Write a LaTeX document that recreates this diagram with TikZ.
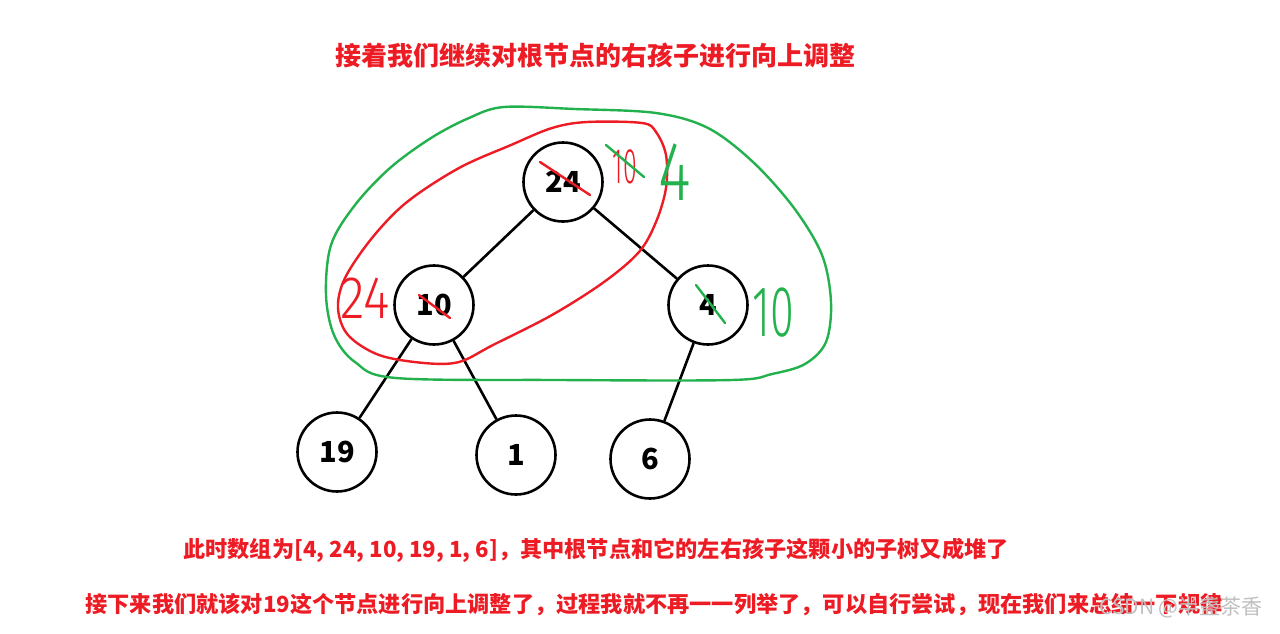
\documentclass[tikz,border=0pt]{standalone}
\usepackage{fontspec}
\newfontfamily\cjk{Noto Sans CJK SC}
\newfontfamily\hand{Fira Sans Light}
\definecolor{pred}{RGB}{237,28,36}
\definecolor{pgreen}{RGB}{34,177,76}
\tikzset{
  heap/.style={circle, draw, line width=2.6pt, minimum size=79pt, inner sep=0pt,
    font=\cjk\bfseries\fontsize{29}{29}\selectfont},
  edge/.style={line width=2.6pt},
  note/.style={text=pred, font=\cjk\bfseries\fontsize{22.2}{22.2}\selectfont},
  scrawl/.style={line width=2.4pt, line cap=round, line join=round},
}
\begin{document}
\begin{tikzpicture}[x=1pt, y=-1pt]
  \useasboundingbox (0,0) rectangle (1280,633);

  % title
  \node[note, font=\cjk\bfseries\fontsize{26}{26}\selectfont] (title) at (595,56) {接着我们继续对根节点的右孩子进行向上调整};

  % heap
  \node[heap] (n24) at (563,182) {24};
  \node[heap] (n10) at (434,305) {10};
  \node[heap] (n4)  at (708,305) {4};
  \node[heap] (n19) at (337,452) {19};
  \node[heap] (n1)  at (516,455) {1};
  \node[heap] (n6)  at (650,459) {6};
  \draw[edge] (n24) -- (n10);
  \draw[edge] (n24) -- (n4);
  \draw[edge] (n10) -- (n19);
  \draw[edge] (n10) -- (n1);
  \draw[edge] (n4) -- (n6);

  % green loop round the whole top
  \draw[scrawl, pgreen] plot[smooth cycle, tension=0.55] coordinates {
    (504,107) (575,109) (656,113) (708,128) (753,162) (794,208) (822,255)
    (831,302) (826,342) (805,364) (772,374) (732,380) (560,380) (396,378)
    (355,362) (334,335) (326,295) (331,245) (355,205) (390,168) (431,138) (469,118)};

  % red loop round 24 and 10
  \draw[scrawl, pred] plot[smooth cycle, tension=0.55] coordinates {
    (552,128) (587,122) (642,123) (656,132) (666,155) (666,188) (656,222)
    (639,252) (604,282) (552,315) (493,345) (459,362) (424,363) (379,355)
    (348,335) (338,308) (345,278) (372,238) (407,202) (459,168) (511,145)};

  % strike outs
  \draw[scrawl, pred] (540,162) -- (590,195);
  \draw[scrawl, pred] (419,295) -- (450,318);
  \draw[scrawl, pgreen] (696,285) -- (725,323);

  % scribbled values
  \node[text=pred, font=\hand\fontsize{50}{50}\selectfont] (r10) at (625,167) {\scalebox{0.5}[1]{10}};
  \draw[scrawl, pgreen] (606,145) -- (644,177);
  \node[text=pgreen, font=\hand\fontsize{84}{84}\selectfont] (g4) at (675,172) {\scalebox{0.75}[1]{4}};
  \node[text=pred, font=\hand\fontsize{60}{60}\selectfont] (r24) at (365,298) {\scalebox{0.85}[1]{24}};
  \node[text=pgreen, font=\hand\fontsize{72}{72}\selectfont] (g10) at (773,313) {\scalebox{0.6}[1]{10}};

  % notes below
  \node[note] (line1) at (596,550) {此时数组为[4, 24, 10, 19, 1, 6]，其中根节点和它的左右孩子这颗小的子树又成堆了};
  \node[note] (line2) at (654,605) {接下来我们就该对19这个节点进行向上调整了，过程我就不再一一列举了，可以自行尝试，现在我们来总结一下规律};
  \node[text=black!25, font=\cjk\fontsize{21}{21}\selectfont] (mark) at (1181,607) {CSDN @半盏茶香};
\end{tikzpicture}
\end{document}
